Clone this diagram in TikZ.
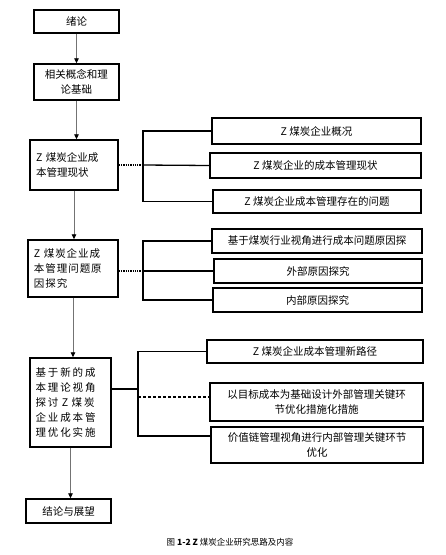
\documentclass[tikz,border=0pt]{standalone}
\usepackage{fontspec}
\setmainfont{Noto Sans CJK SC}
\usetikzlibrary{arrows.meta}

\begin{document}
\begin{tikzpicture}[x=1pt,y=-1pt,
    box/.style={draw, line width=1.4pt, inner sep=2pt, font=\fontsize{10.5}{15}\selectfont},
    sub/.style={box, align=center},
    flow/.style={draw=black!55, line width=0.8pt, -{Triangle[color=black,length=5pt,width=4.5pt]}},
    brace/.style={line width=1.3pt}]
    \useasboundingbox (0,0) rectangle (446,555);

    % main column
    \node[box, minimum width=85pt, minimum height=23pt] (intro) at (76.5,21.5) {绪论};
    \node[box, minimum width=85pt, minimum height=36pt, align=center] (basis) at (76.5,82) {相关概念和理\\论基础};
    \node[box, minimum width=88pt, minimum height=50pt, align=left, text width=76pt] (status) at (74,165) {Z 煤炭企业成\\本管理现状\\[4pt]};
    \node[box, minimum width=90pt, minimum height=57pt, align=left, text width=78pt] (cause) at (73,268.5)
        {\addfontfeature{LetterSpace=9}Z 煤炭企业成\\本管理问题原\\因探究};
    \node[box, minimum width=81pt, minimum height=89pt, align=left, text width=70pt] (opt) at (70.5,402.5)
        {\addfontfeature{LetterSpace=18}基于新的成\\本理论视角\\探讨 Z 煤炭\\企业成本管\\理优化实施};
    \node[box, minimum width=85pt, minimum height=24pt] (concl) at (68.5,511) {结论与展望};

    \draw[flow] (intro.south) -- (intro.south |- basis.north);
    \draw[flow] (basis.south) -- (basis.south |- status.north);
    \draw[flow] (status.south) -- (status.south |- cause.north);
    \draw[flow] (cause.south) -- (cause.south |- opt.north);
    \draw[flow] (opt.south) -- (opt.south |- concl.north);

    % current status
    \node[sub, minimum width=209pt, minimum height=26pt] (s1) at (316.5,131) {Z 煤炭企业概况};
    \node[sub, minimum width=211pt, minimum height=25pt] (s2) at (315.5,165.5) {Z 煤炭企业的成本管理现状};
    \node[sub, minimum width=208pt, minimum height=23pt] (s3) at (317,201.5) {Z 煤炭企业成本管理存在的问题};
    \coordinate (b1) at (143,165);
    \draw[densely dotted, line width=1.3pt] (status.east) -- (b1);
    \draw[brace] (b1) -- (s2.west);
    \draw[brace] (s1.west) -| (b1) |- (s3.west);

    % causes
    \node[sub, minimum width=210pt, minimum height=24pt] (c1) at (317,241) {基于煤炭行业视角进行成本问题原因探};
    \node[sub, minimum width=208pt, minimum height=24pt] (c2) at (318,271) {外部原因探究};
    \node[sub, minimum width=209pt, minimum height=24pt] (c3) at (317.5,300) {内部原因探究};
    \coordinate (b2) at (143,271);
    \draw[densely dotted, line width=1.3pt] (cause.east |- b2) -- (b2);
    \draw[brace] (b2) -- (c2.west);
    \draw[brace] (c1.west) -| (b2) |- (c3.west);

    % optimisation
    \node[sub, minimum width=216pt, minimum height=23pt] (o1) at (315,351.5) {Z 煤炭企业成本管理新路径};
    \node[sub, minimum width=213pt, minimum height=38pt] (o2) at (316.5,402) {以目标成本为基础设计外部管理关键环\\节优化措施化措施};
    \node[sub, minimum width=212pt, minimum height=36pt] (o3) at (317,445) {价值链管理视角进行内部管理关键环节\\优化};
    \coordinate (b3) at (138,389);
    \coordinate (b4) at (138,397);
    \coordinate (b5) at (138,436);
    \draw[brace] (opt.east |- b3) -- (b3);
    \draw[densely dashed, line width=1.3pt] (b4) -- (o2.west |- b4);
    \draw[brace] (o1.west) -| (b3) -- (b5) -- (o3.west |- b5);

    \node[font=\fontsize{8.5}{10}\selectfont] (cap) at (230,542) {图 \textbf{1-2 Z} 煤炭企业研究思路及内容};
\end{tikzpicture}
\end{document}
